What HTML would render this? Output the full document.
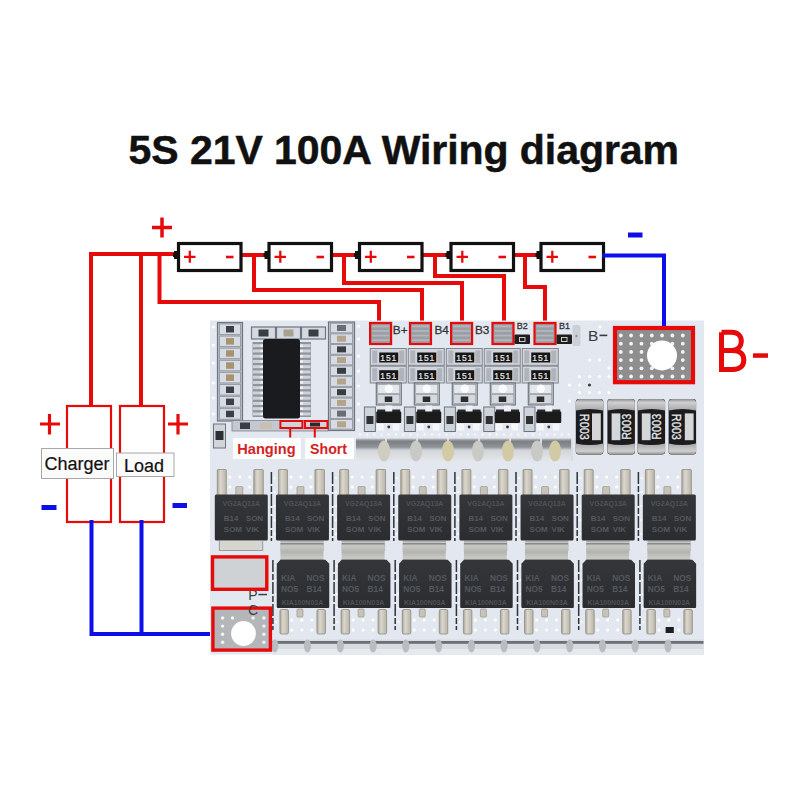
<!DOCTYPE html>
<html><head><meta charset="utf-8"><style>
html,body{margin:0;padding:0;background:#fff;}
svg{display:block;}
</style></head><body>
<svg width="800" height="800" viewBox="0 0 800 800">
<defs><linearGradient id="bus" x1="0" y1="0" x2="0" y2="1"><stop offset="0" stop-color="#c4c8cc"/><stop offset="0.12" stop-color="#7c8085"/><stop offset="0.38" stop-color="#8e9297"/><stop offset="0.52" stop-color="#d2d5d9"/><stop offset="1" stop-color="#e4e6ea"/></linearGradient><linearGradient id="tab" x1="0" y1="0" x2="0" y2="1"><stop offset="0" stop-color="#7a7b7c"/><stop offset="0.15" stop-color="#c9c9c6"/><stop offset="0.5" stop-color="#b3b3b0"/><stop offset="0.85" stop-color="#cbcbc8"/><stop offset="1" stop-color="#808182"/></linearGradient><linearGradient id="fet" x1="0" y1="0" x2="0" y2="1"><stop offset="0" stop-color="#34363a"/><stop offset="1" stop-color="#2a2c30"/></linearGradient><linearGradient id="lead" x1="0" y1="0" x2="1" y2="0"><stop offset="0" stop-color="#a9a59b"/><stop offset="0.35" stop-color="#dcd8cd"/><stop offset="1" stop-color="#b9b4a8"/></linearGradient><linearGradient id="cap" x1="0" y1="0" x2="0" y2="1"><stop offset="0" stop-color="#8e8e90"/><stop offset="0.3" stop-color="#cfcfd0"/><stop offset="1" stop-color="#a8a8aa"/></linearGradient><linearGradient id="capb" x1="0" y1="1" x2="0" y2="0"><stop offset="0" stop-color="#8e8e90"/><stop offset="0.3" stop-color="#cfcfd0"/><stop offset="1" stop-color="#a8a8aa"/></linearGradient></defs>
<text x="128.5" y="164" font-family="Liberation Sans" font-weight="bold" font-size="41" letter-spacing="-0.05" stroke="#111" stroke-width="0.5" fill="#111">5S 21V 100A Wiring diagram</text>
<polyline points="91,405 91,254 175,254" fill="none" stroke="#e60a0a" stroke-width="4" stroke-linejoin="miter" stroke-linecap="square"/>
<polyline points="141,405 141,254" fill="none" stroke="#e60a0a" stroke-width="4" stroke-linejoin="miter" stroke-linecap="square"/>
<polyline points="159.5,254 159.5,302 379,302 379,324" fill="none" stroke="#e60a0a" stroke-width="4" stroke-linejoin="miter" stroke-linecap="square"/>
<polyline points="243,255 266,255" fill="none" stroke="#e60a0a" stroke-width="4" stroke-linejoin="miter" stroke-linecap="square"/>
<polyline points="333,255 356,255" fill="none" stroke="#e60a0a" stroke-width="4" stroke-linejoin="miter" stroke-linecap="square"/>
<polyline points="423,255 447,255" fill="none" stroke="#e60a0a" stroke-width="4" stroke-linejoin="miter" stroke-linecap="square"/>
<polyline points="514,255 537,255" fill="none" stroke="#e60a0a" stroke-width="4" stroke-linejoin="miter" stroke-linecap="square"/>
<polyline points="254,255 254,290 422,290 422,324" fill="none" stroke="#e60a0a" stroke-width="4" stroke-linejoin="miter" stroke-linecap="square"/>
<polyline points="344,255 344,283 462,283 462,324" fill="none" stroke="#e60a0a" stroke-width="4" stroke-linejoin="miter" stroke-linecap="square"/>
<polyline points="435,255 435,276 504,276 504,324" fill="none" stroke="#e60a0a" stroke-width="4" stroke-linejoin="miter" stroke-linecap="square"/>
<polyline points="525,255 525,287 545,287 545,324" fill="none" stroke="#e60a0a" stroke-width="4" stroke-linejoin="miter" stroke-linecap="square"/>
<path d="M152,227.5 H172 M162,217.5 V237.5" stroke="#e60a0a" stroke-width="3.5"/>
<rect x="178.5" y="243.5" width="62.5" height="27" fill="#fff" stroke="#111" stroke-width="3.2"/>
<path d="M177.5,251 H174 V253 H173 V257 H174 V259 H177.5 Z" fill="#111"/>
<path d="M184,256.8 H195.5 M189.8,250.8 V262.8" stroke="#e60a0a" stroke-width="2.3"/>
<path d="M226,257 H233.5" stroke="#e60a0a" stroke-width="2.6"/>
<rect x="269.0" y="243.5" width="62.5" height="27" fill="#fff" stroke="#111" stroke-width="3.2"/>
<path d="M268.0,251 H264.5 V253 H263.5 V257 H264.5 V259 H268.0 Z" fill="#111"/>
<path d="M274.5,256.8 H286.0 M280.3,250.8 V262.8" stroke="#e60a0a" stroke-width="2.3"/>
<path d="M316.5,257 H324.0" stroke="#e60a0a" stroke-width="2.6"/>
<rect x="359.5" y="243.5" width="62.5" height="27" fill="#fff" stroke="#111" stroke-width="3.2"/>
<path d="M358.5,251 H355 V253 H354 V257 H355 V259 H358.5 Z" fill="#111"/>
<path d="M365,256.8 H376.5 M370.8,250.8 V262.8" stroke="#e60a0a" stroke-width="2.3"/>
<path d="M407,257 H414.5" stroke="#e60a0a" stroke-width="2.6"/>
<rect x="451.0" y="243.5" width="62.5" height="27" fill="#fff" stroke="#111" stroke-width="3.2"/>
<path d="M450.0,251 H446.5 V253 H445.5 V257 H446.5 V259 H450.0 Z" fill="#111"/>
<path d="M456.5,256.8 H468.0 M462.3,250.8 V262.8" stroke="#e60a0a" stroke-width="2.3"/>
<path d="M498.5,257 H506.0" stroke="#e60a0a" stroke-width="2.6"/>
<rect x="541.0" y="243.5" width="62.5" height="27" fill="#fff" stroke="#111" stroke-width="3.2"/>
<path d="M540.0,251 H536.5 V253 H535.5 V257 H536.5 V259 H540.0 Z" fill="#111"/>
<path d="M546.5,256.8 H558.0 M552.3,250.8 V262.8" stroke="#e60a0a" stroke-width="2.3"/>
<path d="M588.5,257 H596.0" stroke="#e60a0a" stroke-width="2.6"/>
<polyline points="604,255.5 664,255.5 664,326" fill="none" stroke="#0e0ee8" stroke-width="4" stroke-linejoin="miter" stroke-linecap="square"/>
<rect x="628" y="232.5" width="14.5" height="5" fill="#0e0ee8"/>
<rect x="67" y="406" width="44" height="116" fill="none" stroke="#e60a0a" stroke-width="2.2"/>
<rect x="120" y="406" width="44" height="116" fill="none" stroke="#e60a0a" stroke-width="2.2"/>
<path d="M40,424 H60 M49.5,414 V434.5 M168,424 H188 M178,414 V434.5" stroke="#e60a0a" stroke-width="3.2"/>
<rect x="41.5" y="505" width="15" height="5" fill="#0e0ee8"/>
<rect x="172.5" y="503" width="14.5" height="5" fill="#0e0ee8"/>
<rect x="41.5" y="448.5" width="72" height="30" fill="#fbfbfb" stroke="#a8a8a8" stroke-width="1"/>
<text x="44.5" y="469.5" font-family="Liberation Sans" font-size="18" stroke="#111" stroke-width="0.2" fill="#111">Charger</text>
<rect x="116.5" y="453" width="57.5" height="23.5" fill="#fbfbfb" stroke="#a8a8a8" stroke-width="1"/>
<text x="124" y="471.5" font-family="Liberation Sans" font-size="18" stroke="#111" stroke-width="0.2" fill="#111">Load</text>
<polyline points="91.5,522 91.5,634 217,634" fill="none" stroke="#0e0ee8" stroke-width="4" stroke-linejoin="miter" stroke-linecap="square"/>
<polyline points="141.5,522 141.5,634" fill="none" stroke="#0e0ee8" stroke-width="4" stroke-linejoin="miter" stroke-linecap="square"/>
<rect x="210.00" y="320.50" width="494.00" height="334.00" fill="#e3e8f0"/>
<rect x="217.50" y="322.50" width="25.00" height="98.50" fill="#b9bfc9" stroke="#6f757e" stroke-width="1.2"/>
<rect x="219.50" y="324.00" width="21.00" height="10.50" fill="#d7dce4" stroke="#8d939c" stroke-width="0.8"/>
<rect x="226.00" y="326.00" width="8.00" height="6.50" fill="#3c3f44"/>
<rect x="219.50" y="336.10" width="21.00" height="10.50" fill="#d7dce4" stroke="#8d939c" stroke-width="0.8"/>
<rect x="226.00" y="338.10" width="8.00" height="6.50" fill="#a8936e"/>
<rect x="219.50" y="348.20" width="21.00" height="10.50" fill="#d7dce4" stroke="#8d939c" stroke-width="0.8"/>
<rect x="226.00" y="350.20" width="8.00" height="6.50" fill="#a8936e"/>
<rect x="219.50" y="360.30" width="21.00" height="10.50" fill="#d7dce4" stroke="#8d939c" stroke-width="0.8"/>
<rect x="226.00" y="362.30" width="8.00" height="6.50" fill="#a8936e"/>
<rect x="219.50" y="372.40" width="21.00" height="10.50" fill="#d7dce4" stroke="#8d939c" stroke-width="0.8"/>
<rect x="226.00" y="374.40" width="8.00" height="6.50" fill="#a8936e"/>
<rect x="219.50" y="384.50" width="21.00" height="10.50" fill="#d7dce4" stroke="#8d939c" stroke-width="0.8"/>
<rect x="226.00" y="386.50" width="8.00" height="6.50" fill="#3c3f44"/>
<rect x="219.50" y="396.60" width="21.00" height="10.50" fill="#d7dce4" stroke="#8d939c" stroke-width="0.8"/>
<rect x="226.00" y="398.60" width="8.00" height="6.50" fill="#3c3f44"/>
<rect x="219.50" y="408.70" width="21.00" height="10.50" fill="#d7dce4" stroke="#8d939c" stroke-width="0.8"/>
<rect x="226.00" y="410.70" width="8.00" height="6.50" fill="#3c3f44"/>
<circle cx="213.5" cy="327.0" r="1.6" fill="#ffffff"/>
<circle cx="213.5" cy="345.0" r="1.6" fill="#ffffff"/>
<circle cx="213.5" cy="363.0" r="1.6" fill="#ffffff"/>
<circle cx="213.5" cy="383.0" r="1.6" fill="#ffffff"/>
<circle cx="213.5" cy="398.0" r="1.6" fill="#ffffff"/>
<circle cx="213.5" cy="414.0" r="1.6" fill="#ffffff"/>
<rect x="251.50" y="327.00" width="24.00" height="12.00" fill="#d5dae2" stroke="#6f757e" stroke-width="1.2"/>
<rect x="258.50" y="329.50" width="10.00" height="7.00" fill="#3a3d42"/>
<rect x="276.50" y="327.00" width="24.00" height="12.00" fill="#d5dae2" stroke="#6f757e" stroke-width="1.2"/>
<rect x="283.50" y="329.50" width="10.00" height="7.00" fill="#a8a090"/>
<rect x="301.50" y="327.00" width="24.00" height="12.00" fill="#d5dae2" stroke="#6f757e" stroke-width="1.2"/>
<rect x="308.50" y="329.50" width="10.00" height="7.00" fill="#3a3d42"/>
<rect x="252.50" y="342.00" width="11.00" height="75.00" fill="#8f959d"/>
<rect x="299.50" y="342.00" width="11.50" height="75.00" fill="#8f959d"/>
<rect x="253.00" y="344.20" width="10.50" height="3.00" fill="#cfd3d9"/>
<rect x="260.50" y="344.50" width="3.00" height="2.40" fill="#eef0f3"/>
<rect x="300.00" y="344.20" width="10.50" height="3.00" fill="#cfd3d9"/>
<rect x="300.00" y="344.50" width="3.00" height="2.40" fill="#eef0f3"/>
<rect x="253.00" y="349.45" width="10.50" height="3.00" fill="#cfd3d9"/>
<rect x="260.50" y="349.75" width="3.00" height="2.40" fill="#eef0f3"/>
<rect x="300.00" y="349.45" width="10.50" height="3.00" fill="#cfd3d9"/>
<rect x="300.00" y="349.75" width="3.00" height="2.40" fill="#eef0f3"/>
<rect x="253.00" y="354.70" width="10.50" height="3.00" fill="#cfd3d9"/>
<rect x="260.50" y="355.00" width="3.00" height="2.40" fill="#eef0f3"/>
<rect x="300.00" y="354.70" width="10.50" height="3.00" fill="#cfd3d9"/>
<rect x="300.00" y="355.00" width="3.00" height="2.40" fill="#eef0f3"/>
<rect x="253.00" y="359.95" width="10.50" height="3.00" fill="#cfd3d9"/>
<rect x="260.50" y="360.25" width="3.00" height="2.40" fill="#eef0f3"/>
<rect x="300.00" y="359.95" width="10.50" height="3.00" fill="#cfd3d9"/>
<rect x="300.00" y="360.25" width="3.00" height="2.40" fill="#eef0f3"/>
<rect x="253.00" y="365.20" width="10.50" height="3.00" fill="#cfd3d9"/>
<rect x="260.50" y="365.50" width="3.00" height="2.40" fill="#eef0f3"/>
<rect x="300.00" y="365.20" width="10.50" height="3.00" fill="#cfd3d9"/>
<rect x="300.00" y="365.50" width="3.00" height="2.40" fill="#eef0f3"/>
<rect x="253.00" y="370.45" width="10.50" height="3.00" fill="#cfd3d9"/>
<rect x="260.50" y="370.75" width="3.00" height="2.40" fill="#eef0f3"/>
<rect x="300.00" y="370.45" width="10.50" height="3.00" fill="#cfd3d9"/>
<rect x="300.00" y="370.75" width="3.00" height="2.40" fill="#eef0f3"/>
<rect x="253.00" y="375.70" width="10.50" height="3.00" fill="#cfd3d9"/>
<rect x="260.50" y="376.00" width="3.00" height="2.40" fill="#eef0f3"/>
<rect x="300.00" y="375.70" width="10.50" height="3.00" fill="#cfd3d9"/>
<rect x="300.00" y="376.00" width="3.00" height="2.40" fill="#eef0f3"/>
<rect x="253.00" y="380.95" width="10.50" height="3.00" fill="#cfd3d9"/>
<rect x="260.50" y="381.25" width="3.00" height="2.40" fill="#eef0f3"/>
<rect x="300.00" y="380.95" width="10.50" height="3.00" fill="#cfd3d9"/>
<rect x="300.00" y="381.25" width="3.00" height="2.40" fill="#eef0f3"/>
<rect x="253.00" y="386.20" width="10.50" height="3.00" fill="#cfd3d9"/>
<rect x="260.50" y="386.50" width="3.00" height="2.40" fill="#eef0f3"/>
<rect x="300.00" y="386.20" width="10.50" height="3.00" fill="#cfd3d9"/>
<rect x="300.00" y="386.50" width="3.00" height="2.40" fill="#eef0f3"/>
<rect x="253.00" y="391.45" width="10.50" height="3.00" fill="#cfd3d9"/>
<rect x="260.50" y="391.75" width="3.00" height="2.40" fill="#eef0f3"/>
<rect x="300.00" y="391.45" width="10.50" height="3.00" fill="#cfd3d9"/>
<rect x="300.00" y="391.75" width="3.00" height="2.40" fill="#eef0f3"/>
<rect x="253.00" y="396.70" width="10.50" height="3.00" fill="#cfd3d9"/>
<rect x="260.50" y="397.00" width="3.00" height="2.40" fill="#eef0f3"/>
<rect x="300.00" y="396.70" width="10.50" height="3.00" fill="#cfd3d9"/>
<rect x="300.00" y="397.00" width="3.00" height="2.40" fill="#eef0f3"/>
<rect x="253.00" y="401.95" width="10.50" height="3.00" fill="#cfd3d9"/>
<rect x="260.50" y="402.25" width="3.00" height="2.40" fill="#eef0f3"/>
<rect x="300.00" y="401.95" width="10.50" height="3.00" fill="#cfd3d9"/>
<rect x="300.00" y="402.25" width="3.00" height="2.40" fill="#eef0f3"/>
<rect x="253.00" y="407.20" width="10.50" height="3.00" fill="#cfd3d9"/>
<rect x="260.50" y="407.50" width="3.00" height="2.40" fill="#eef0f3"/>
<rect x="300.00" y="407.20" width="10.50" height="3.00" fill="#cfd3d9"/>
<rect x="300.00" y="407.50" width="3.00" height="2.40" fill="#eef0f3"/>
<rect x="253.00" y="412.45" width="10.50" height="3.00" fill="#cfd3d9"/>
<rect x="260.50" y="412.75" width="3.00" height="2.40" fill="#eef0f3"/>
<rect x="300.00" y="412.45" width="10.50" height="3.00" fill="#cfd3d9"/>
<rect x="300.00" y="412.75" width="3.00" height="2.40" fill="#eef0f3"/>
<rect x="263.00" y="339.00" width="37.00" height="79.50" fill="#1a1b1f" rx="2.5"/>
<rect x="328.50" y="322.00" width="26.00" height="108.50" fill="#b9bfc9" stroke="#6f757e" stroke-width="1.2"/>
<rect x="330.50" y="323.20" width="22.00" height="9.60" fill="#d7dce4" stroke="#8d939c" stroke-width="0.8"/>
<rect x="337.00" y="325.00" width="9.00" height="6.00" fill="#6a6e74"/>
<rect x="330.50" y="333.90" width="22.00" height="9.60" fill="#d7dce4" stroke="#8d939c" stroke-width="0.8"/>
<rect x="337.00" y="335.70" width="9.00" height="6.00" fill="#b4a48a"/>
<rect x="330.50" y="344.60" width="22.00" height="9.60" fill="#d7dce4" stroke="#8d939c" stroke-width="0.8"/>
<rect x="337.00" y="346.40" width="9.00" height="6.00" fill="#3a3d42"/>
<rect x="330.50" y="355.30" width="22.00" height="9.60" fill="#d7dce4" stroke="#8d939c" stroke-width="0.8"/>
<rect x="337.00" y="357.10" width="9.00" height="6.00" fill="#b4a48a"/>
<rect x="330.50" y="366.00" width="22.00" height="9.60" fill="#d7dce4" stroke="#8d939c" stroke-width="0.8"/>
<rect x="337.00" y="367.80" width="9.00" height="6.00" fill="#3a3d42"/>
<rect x="330.50" y="376.70" width="22.00" height="9.60" fill="#d7dce4" stroke="#8d939c" stroke-width="0.8"/>
<rect x="337.00" y="378.50" width="9.00" height="6.00" fill="#b4a48a"/>
<rect x="330.50" y="387.40" width="22.00" height="9.60" fill="#d7dce4" stroke="#8d939c" stroke-width="0.8"/>
<rect x="337.00" y="389.20" width="9.00" height="6.00" fill="#3a3d42"/>
<rect x="330.50" y="398.10" width="22.00" height="9.60" fill="#d7dce4" stroke="#8d939c" stroke-width="0.8"/>
<rect x="337.00" y="399.90" width="9.00" height="6.00" fill="#b4a48a"/>
<rect x="330.50" y="408.80" width="22.00" height="9.60" fill="#d7dce4" stroke="#8d939c" stroke-width="0.8"/>
<rect x="337.00" y="410.60" width="9.00" height="6.00" fill="#6a6e74"/>
<rect x="330.50" y="419.50" width="22.00" height="9.60" fill="#d7dce4" stroke="#8d939c" stroke-width="0.8"/>
<rect x="337.00" y="421.30" width="9.00" height="6.00" fill="#b4a48a"/>
<circle cx="358.5" cy="326.0" r="1.5" fill="#ffffff"/>
<circle cx="358.5" cy="339.0" r="1.5" fill="#ffffff"/>
<circle cx="358.5" cy="356.0" r="1.5" fill="#ffffff"/>
<circle cx="358.5" cy="371.0" r="1.5" fill="#ffffff"/>
<circle cx="358.5" cy="386.0" r="1.5" fill="#ffffff"/>
<circle cx="358.5" cy="404.0" r="1.5" fill="#ffffff"/>
<circle cx="358.5" cy="420.0" r="1.5" fill="#ffffff"/>
<rect x="232.00" y="420.50" width="96.00" height="10.50" fill="#c4c9d1" stroke="#7d838d" stroke-width="0.8"/>
<rect x="240.00" y="422.50" width="10.00" height="6.50" fill="#3a3d42"/>
<rect x="260.00" y="422.50" width="12.00" height="6.50" fill="#c8c0b0"/>
<rect x="280.40" y="421.00" width="22.00" height="7.00" fill="#cfd3da" stroke="#e60a0a" stroke-width="2"/>
<rect x="305.00" y="421.00" width="22.50" height="7.00" fill="#cfd3da" stroke="#e60a0a" stroke-width="2"/>
<rect x="310.00" y="422.50" width="10.00" height="4.00" fill="#2a2a2a"/>
<rect x="289.20" y="428.00" width="2.00" height="9.50" fill="#e60a0a"/>
<rect x="313.80" y="428.00" width="2.00" height="9.50" fill="#e60a0a"/>
<rect x="213.50" y="424.00" width="12.00" height="24.00" fill="#d0d5dc" stroke="#6f757e" stroke-width="1"/>
<rect x="215.50" y="431.00" width="8.00" height="9.00" fill="#2e3034"/>
<rect x="233.00" y="438.00" width="68.00" height="21.00" fill="#ffffff"/>
<text x="237.3" y="453.5" font-family="Liberation Sans" font-weight="bold" font-size="14.6" fill="#d42222">Hanging</text>
<rect x="305.00" y="438.00" width="49.00" height="21.00" fill="#ffffff"/>
<text x="310" y="453.5" font-family="Liberation Sans" font-weight="bold" font-size="14.2" fill="#d42222">Short</text>
<rect x="370.10" y="323.00" width="21.00" height="21.00" fill="#9b9fa5" stroke="#e60a0a" stroke-width="2.2"/>
<rect x="372.10" y="325.50" width="17.00" height="1.80" fill="#b3b6bb"/>
<rect x="372.10" y="330.10" width="17.00" height="1.80" fill="#b3b6bb"/>
<rect x="372.10" y="334.70" width="17.00" height="1.80" fill="#b3b6bb"/>
<rect x="372.10" y="339.30" width="17.00" height="1.80" fill="#b3b6bb"/>
<rect x="410.00" y="323.00" width="21.00" height="21.00" fill="#9b9fa5" stroke="#e60a0a" stroke-width="2.2"/>
<rect x="412.00" y="325.50" width="17.00" height="1.80" fill="#b3b6bb"/>
<rect x="412.00" y="330.10" width="17.00" height="1.80" fill="#b3b6bb"/>
<rect x="412.00" y="334.70" width="17.00" height="1.80" fill="#b3b6bb"/>
<rect x="412.00" y="339.30" width="17.00" height="1.80" fill="#b3b6bb"/>
<rect x="451.10" y="323.00" width="21.00" height="21.00" fill="#9b9fa5" stroke="#e60a0a" stroke-width="2.2"/>
<rect x="453.10" y="325.50" width="17.00" height="1.80" fill="#b3b6bb"/>
<rect x="453.10" y="330.10" width="17.00" height="1.80" fill="#b3b6bb"/>
<rect x="453.10" y="334.70" width="17.00" height="1.80" fill="#b3b6bb"/>
<rect x="453.10" y="339.30" width="17.00" height="1.80" fill="#b3b6bb"/>
<rect x="492.50" y="323.00" width="21.00" height="21.00" fill="#9b9fa5" stroke="#e60a0a" stroke-width="2.2"/>
<rect x="494.50" y="325.50" width="17.00" height="1.80" fill="#b3b6bb"/>
<rect x="494.50" y="330.10" width="17.00" height="1.80" fill="#b3b6bb"/>
<rect x="494.50" y="334.70" width="17.00" height="1.80" fill="#b3b6bb"/>
<rect x="494.50" y="339.30" width="17.00" height="1.80" fill="#b3b6bb"/>
<rect x="534.50" y="323.00" width="21.00" height="21.00" fill="#9b9fa5" stroke="#e60a0a" stroke-width="2.2"/>
<rect x="536.50" y="325.50" width="17.00" height="1.80" fill="#b3b6bb"/>
<rect x="536.50" y="330.10" width="17.00" height="1.80" fill="#b3b6bb"/>
<rect x="536.50" y="334.70" width="17.00" height="1.80" fill="#b3b6bb"/>
<rect x="536.50" y="339.30" width="17.00" height="1.80" fill="#b3b6bb"/>
<text x="392.8" y="333.8" font-family="Liberation Sans" font-size="11.8" stroke="#333" stroke-width="0.3" fill="#333">B+</text>
<text x="434.5" y="333.8" font-family="Liberation Sans" font-size="11.8" stroke="#333" stroke-width="0.3" fill="#333">B4</text>
<text x="475" y="333.8" font-family="Liberation Sans" font-size="11.8" stroke="#333" stroke-width="0.3" fill="#333">B3</text>
<text x="516.8" y="328.6" font-family="Liberation Sans" font-size="9" stroke="#333" stroke-width="0.3" fill="#333">B2</text>
<text x="559" y="328.6" font-family="Liberation Sans" font-size="9" stroke="#333" stroke-width="0.3" fill="#333">B1</text>
<rect x="514.50" y="334.50" width="15.50" height="9.50" fill="#1e1e1e" rx="1"/>
<rect x="519.50" y="337.50" width="5.50" height="4.00" fill="none" stroke="#cccccc" stroke-width="1"/>
<rect x="556.50" y="334.50" width="15.50" height="9.50" fill="#1e1e1e" rx="1"/>
<rect x="561.50" y="337.50" width="5.50" height="4.00" fill="none" stroke="#cccccc" stroke-width="1"/>
<rect x="572.50" y="325.00" width="8.00" height="21.00" fill="#cbd0d8" rx="2"/>
<circle cx="576.5" cy="336.0" r="1.2" fill="#8a9098"/>
<text x="588" y="341" font-family="Liberation Sans" font-size="15.5" fill="#3a3a3a">B</text>
<rect x="599.50" y="334.60" width="7.80" height="1.60" fill="#3a3a3a"/>
<circle cx="600.0" cy="327.0" r="1.5" fill="#ffffff"/>
<circle cx="589.7" cy="360.0" r="1.5" fill="#ffffff"/>
<circle cx="599.5" cy="360.0" r="1.5" fill="#ffffff"/>
<circle cx="609.0" cy="368.0" r="1.5" fill="#ffffff"/>
<circle cx="579.5" cy="376.6" r="1.5" fill="#ffffff"/>
<circle cx="589.7" cy="376.6" r="1.5" fill="#ffffff"/>
<circle cx="599.5" cy="376.6" r="1.5" fill="#ffffff"/>
<circle cx="569.5" cy="385.0" r="1.5" fill="#ffffff"/>
<circle cx="579.5" cy="385.0" r="1.5" fill="#ffffff"/>
<circle cx="579.5" cy="392.6" r="1.5" fill="#ffffff"/>
<circle cx="589.5" cy="392.6" r="1.5" fill="#ffffff"/>
<circle cx="599.5" cy="392.6" r="1.5" fill="#ffffff"/>
<circle cx="569.5" cy="401.0" r="1.5" fill="#ffffff"/>
<circle cx="609.0" cy="392.6" r="1.5" fill="#ffffff"/>
<circle cx="609.0" cy="376.6" r="1.5" fill="#ffffff"/>
<circle cx="589.5" cy="385.0" r="1.6" fill="#3c3f44"/>
<rect x="370.25" y="348.50" width="36.00" height="16.80" fill="#d2d6dc" stroke="#80858d" stroke-width="1"/>
<rect x="372.25" y="350.50" width="5.00" height="12.80" fill="#b0b4ba"/>
<rect x="399.25" y="350.50" width="5.00" height="12.80" fill="#b0b4ba"/>
<rect x="379.25" y="352.50" width="19.00" height="10.00" fill="#161616"/>
<text x="388.75" y="360.8" text-anchor="middle" font-family="Liberation Sans" font-size="8.5" letter-spacing="0.9" stroke="#e8e8e8" stroke-width="0.2" fill="#e8e8e8">151</text>
<rect x="370.25" y="366.20" width="36.00" height="16.80" fill="#d2d6dc" stroke="#80858d" stroke-width="1"/>
<rect x="372.25" y="368.20" width="5.00" height="12.80" fill="#b0b4ba"/>
<rect x="399.25" y="368.20" width="5.00" height="12.80" fill="#b0b4ba"/>
<rect x="379.25" y="370.20" width="19.00" height="10.00" fill="#161616"/>
<text x="388.75" y="378.5" text-anchor="middle" font-family="Liberation Sans" font-size="8.5" letter-spacing="0.9" stroke="#e8e8e8" stroke-width="0.2" fill="#e8e8e8">151</text>
<rect x="376.25" y="383.00" width="25.00" height="22.00" fill="#cdd2d8" stroke="#5f656e" stroke-width="1"/>
<rect x="377.75" y="384.50" width="22.00" height="9.00" fill="#e4e7eb" stroke="#8a9098" stroke-width="0.6"/>
<rect x="377.75" y="394.50" width="22.00" height="9.00" fill="#d5d9de" stroke="#8a9098" stroke-width="0.6"/>
<circle cx="388.75" cy="388.8" r="4.2" fill="#fafbfc"/>
<rect x="384.75" y="396.50" width="7.50" height="5.50" fill="#2a2c30"/>
<rect x="408.25" y="348.50" width="36.00" height="16.80" fill="#d2d6dc" stroke="#80858d" stroke-width="1"/>
<rect x="410.25" y="350.50" width="5.00" height="12.80" fill="#b0b4ba"/>
<rect x="437.25" y="350.50" width="5.00" height="12.80" fill="#b0b4ba"/>
<rect x="417.25" y="352.50" width="19.00" height="10.00" fill="#161616"/>
<text x="426.75" y="360.8" text-anchor="middle" font-family="Liberation Sans" font-size="8.5" letter-spacing="0.9" stroke="#e8e8e8" stroke-width="0.2" fill="#e8e8e8">151</text>
<rect x="408.25" y="366.20" width="36.00" height="16.80" fill="#d2d6dc" stroke="#80858d" stroke-width="1"/>
<rect x="410.25" y="368.20" width="5.00" height="12.80" fill="#b0b4ba"/>
<rect x="437.25" y="368.20" width="5.00" height="12.80" fill="#b0b4ba"/>
<rect x="417.25" y="370.20" width="19.00" height="10.00" fill="#161616"/>
<text x="426.75" y="378.5" text-anchor="middle" font-family="Liberation Sans" font-size="8.5" letter-spacing="0.9" stroke="#e8e8e8" stroke-width="0.2" fill="#e8e8e8">151</text>
<rect x="414.25" y="383.00" width="25.00" height="22.00" fill="#cdd2d8" stroke="#5f656e" stroke-width="1"/>
<rect x="415.75" y="384.50" width="22.00" height="9.00" fill="#e4e7eb" stroke="#8a9098" stroke-width="0.6"/>
<rect x="415.75" y="394.50" width="22.00" height="9.00" fill="#d5d9de" stroke="#8a9098" stroke-width="0.6"/>
<circle cx="426.75" cy="388.8" r="4.2" fill="#fafbfc"/>
<rect x="422.75" y="396.50" width="7.50" height="5.50" fill="#2a2c30"/>
<rect x="446.25" y="348.50" width="36.00" height="16.80" fill="#d2d6dc" stroke="#80858d" stroke-width="1"/>
<rect x="448.25" y="350.50" width="5.00" height="12.80" fill="#b0b4ba"/>
<rect x="475.25" y="350.50" width="5.00" height="12.80" fill="#b0b4ba"/>
<rect x="455.25" y="352.50" width="19.00" height="10.00" fill="#161616"/>
<text x="464.75" y="360.8" text-anchor="middle" font-family="Liberation Sans" font-size="8.5" letter-spacing="0.9" stroke="#e8e8e8" stroke-width="0.2" fill="#e8e8e8">151</text>
<rect x="446.25" y="366.20" width="36.00" height="16.80" fill="#d2d6dc" stroke="#80858d" stroke-width="1"/>
<rect x="448.25" y="368.20" width="5.00" height="12.80" fill="#b0b4ba"/>
<rect x="475.25" y="368.20" width="5.00" height="12.80" fill="#b0b4ba"/>
<rect x="455.25" y="370.20" width="19.00" height="10.00" fill="#161616"/>
<text x="464.75" y="378.5" text-anchor="middle" font-family="Liberation Sans" font-size="8.5" letter-spacing="0.9" stroke="#e8e8e8" stroke-width="0.2" fill="#e8e8e8">151</text>
<rect x="452.25" y="383.00" width="25.00" height="22.00" fill="#cdd2d8" stroke="#5f656e" stroke-width="1"/>
<rect x="453.75" y="384.50" width="22.00" height="9.00" fill="#e4e7eb" stroke="#8a9098" stroke-width="0.6"/>
<rect x="453.75" y="394.50" width="22.00" height="9.00" fill="#d5d9de" stroke="#8a9098" stroke-width="0.6"/>
<circle cx="464.75" cy="388.8" r="4.2" fill="#fafbfc"/>
<rect x="460.75" y="396.50" width="7.50" height="5.50" fill="#2a2c30"/>
<rect x="484.25" y="348.50" width="36.00" height="16.80" fill="#d2d6dc" stroke="#80858d" stroke-width="1"/>
<rect x="486.25" y="350.50" width="5.00" height="12.80" fill="#b0b4ba"/>
<rect x="513.25" y="350.50" width="5.00" height="12.80" fill="#b0b4ba"/>
<rect x="493.25" y="352.50" width="19.00" height="10.00" fill="#161616"/>
<text x="502.75" y="360.8" text-anchor="middle" font-family="Liberation Sans" font-size="8.5" letter-spacing="0.9" stroke="#e8e8e8" stroke-width="0.2" fill="#e8e8e8">151</text>
<rect x="484.25" y="366.20" width="36.00" height="16.80" fill="#d2d6dc" stroke="#80858d" stroke-width="1"/>
<rect x="486.25" y="368.20" width="5.00" height="12.80" fill="#b0b4ba"/>
<rect x="513.25" y="368.20" width="5.00" height="12.80" fill="#b0b4ba"/>
<rect x="493.25" y="370.20" width="19.00" height="10.00" fill="#161616"/>
<text x="502.75" y="378.5" text-anchor="middle" font-family="Liberation Sans" font-size="8.5" letter-spacing="0.9" stroke="#e8e8e8" stroke-width="0.2" fill="#e8e8e8">151</text>
<rect x="490.25" y="383.00" width="25.00" height="22.00" fill="#cdd2d8" stroke="#5f656e" stroke-width="1"/>
<rect x="491.75" y="384.50" width="22.00" height="9.00" fill="#e4e7eb" stroke="#8a9098" stroke-width="0.6"/>
<rect x="491.75" y="394.50" width="22.00" height="9.00" fill="#d5d9de" stroke="#8a9098" stroke-width="0.6"/>
<circle cx="502.75" cy="388.8" r="4.2" fill="#fafbfc"/>
<rect x="498.75" y="396.50" width="7.50" height="5.50" fill="#2a2c30"/>
<rect x="522.25" y="348.50" width="36.00" height="16.80" fill="#d2d6dc" stroke="#80858d" stroke-width="1"/>
<rect x="524.25" y="350.50" width="5.00" height="12.80" fill="#b0b4ba"/>
<rect x="551.25" y="350.50" width="5.00" height="12.80" fill="#b0b4ba"/>
<rect x="531.25" y="352.50" width="19.00" height="10.00" fill="#161616"/>
<text x="540.75" y="360.8" text-anchor="middle" font-family="Liberation Sans" font-size="8.5" letter-spacing="0.9" stroke="#e8e8e8" stroke-width="0.2" fill="#e8e8e8">151</text>
<rect x="522.25" y="366.20" width="36.00" height="16.80" fill="#d2d6dc" stroke="#80858d" stroke-width="1"/>
<rect x="524.25" y="368.20" width="5.00" height="12.80" fill="#b0b4ba"/>
<rect x="551.25" y="368.20" width="5.00" height="12.80" fill="#b0b4ba"/>
<rect x="531.25" y="370.20" width="19.00" height="10.00" fill="#161616"/>
<text x="540.75" y="378.5" text-anchor="middle" font-family="Liberation Sans" font-size="8.5" letter-spacing="0.9" stroke="#e8e8e8" stroke-width="0.2" fill="#e8e8e8">151</text>
<rect x="528.25" y="383.00" width="25.00" height="22.00" fill="#cdd2d8" stroke="#5f656e" stroke-width="1"/>
<rect x="529.75" y="384.50" width="22.00" height="9.00" fill="#e4e7eb" stroke="#8a9098" stroke-width="0.6"/>
<rect x="529.75" y="394.50" width="22.00" height="9.00" fill="#d5d9de" stroke="#8a9098" stroke-width="0.6"/>
<circle cx="540.75" cy="388.8" r="4.2" fill="#fafbfc"/>
<rect x="536.75" y="396.50" width="7.50" height="5.50" fill="#2a2c30"/>
<rect x="364.40" y="407.00" width="11.00" height="24.50" fill="#cfd4db" stroke="#6f757e" stroke-width="1"/>
<rect x="366.40" y="416.00" width="7.00" height="8.00" fill="#2f3135"/>
<rect x="377.25" y="409.50" width="23.00" height="3.00" fill="#2a2b2e"/>
<rect x="385.25" y="405.50" width="7.00" height="6.50" fill="#eef0f3"/>
<rect x="376.25" y="411.50" width="25.00" height="11.50" fill="#1b1b1c" rx="1"/>
<rect x="376.75" y="424.00" width="7.00" height="6.50" fill="#f6f7f9"/>
<rect x="392.75" y="424.00" width="6.50" height="6.50" fill="#f6f7f9"/>
<circle cx="388.8" cy="427.0" r="1.4" fill="#333"/>
<rect x="404.40" y="407.00" width="11.00" height="24.50" fill="#cfd4db" stroke="#6f757e" stroke-width="1"/>
<rect x="406.40" y="416.00" width="7.00" height="8.00" fill="#2f3135"/>
<rect x="417.25" y="409.50" width="23.00" height="3.00" fill="#2a2b2e"/>
<rect x="425.25" y="405.50" width="7.00" height="6.50" fill="#eef0f3"/>
<rect x="416.25" y="411.50" width="25.00" height="11.50" fill="#1b1b1c" rx="1"/>
<rect x="416.75" y="424.00" width="7.00" height="6.50" fill="#f6f7f9"/>
<rect x="432.75" y="424.00" width="6.50" height="6.50" fill="#f6f7f9"/>
<circle cx="428.8" cy="427.0" r="1.4" fill="#333"/>
<rect x="444.40" y="407.00" width="11.00" height="24.50" fill="#cfd4db" stroke="#6f757e" stroke-width="1"/>
<rect x="446.40" y="416.00" width="7.00" height="8.00" fill="#2f3135"/>
<rect x="457.60" y="409.50" width="23.00" height="3.00" fill="#2a2b2e"/>
<rect x="465.60" y="405.50" width="7.00" height="6.50" fill="#eef0f3"/>
<rect x="456.60" y="411.50" width="25.00" height="11.50" fill="#1b1b1c" rx="1"/>
<rect x="457.10" y="424.00" width="7.00" height="6.50" fill="#f6f7f9"/>
<rect x="473.10" y="424.00" width="6.50" height="6.50" fill="#f6f7f9"/>
<circle cx="469.1" cy="427.0" r="1.4" fill="#333"/>
<rect x="483.75" y="407.00" width="11.00" height="24.50" fill="#cfd4db" stroke="#6f757e" stroke-width="1"/>
<rect x="485.75" y="416.00" width="7.00" height="8.00" fill="#2f3135"/>
<rect x="496.00" y="409.50" width="23.00" height="3.00" fill="#2a2b2e"/>
<rect x="504.00" y="405.50" width="7.00" height="6.50" fill="#eef0f3"/>
<rect x="495.00" y="411.50" width="25.00" height="11.50" fill="#1b1b1c" rx="1"/>
<rect x="495.50" y="424.00" width="7.00" height="6.50" fill="#f6f7f9"/>
<rect x="511.50" y="424.00" width="6.50" height="6.50" fill="#f6f7f9"/>
<circle cx="507.5" cy="427.0" r="1.4" fill="#333"/>
<rect x="524.00" y="407.00" width="11.00" height="24.50" fill="#cfd4db" stroke="#6f757e" stroke-width="1"/>
<rect x="526.00" y="416.00" width="7.00" height="8.00" fill="#2f3135"/>
<rect x="537.25" y="409.50" width="23.00" height="3.00" fill="#2a2b2e"/>
<rect x="545.25" y="405.50" width="7.00" height="6.50" fill="#eef0f3"/>
<rect x="536.25" y="411.50" width="25.00" height="11.50" fill="#1b1b1c" rx="1"/>
<rect x="536.75" y="424.00" width="7.00" height="6.50" fill="#f6f7f9"/>
<rect x="552.75" y="424.00" width="6.50" height="6.50" fill="#f6f7f9"/>
<circle cx="548.8" cy="427.0" r="1.4" fill="#333"/>
<circle cx="360.0" cy="434.5" r="1.2" fill="#f4f6f8"/>
<circle cx="367.2" cy="434.5" r="1.2" fill="#f4f6f8"/>
<circle cx="374.4" cy="434.5" r="1.2" fill="#f4f6f8"/>
<circle cx="381.6" cy="434.5" r="1.2" fill="#f4f6f8"/>
<circle cx="388.8" cy="434.5" r="1.2" fill="#f4f6f8"/>
<circle cx="396.0" cy="434.5" r="1.2" fill="#f4f6f8"/>
<circle cx="403.2" cy="434.5" r="1.2" fill="#f4f6f8"/>
<circle cx="410.4" cy="434.5" r="1.2" fill="#f4f6f8"/>
<circle cx="417.6" cy="434.5" r="1.2" fill="#f4f6f8"/>
<circle cx="424.8" cy="434.5" r="1.2" fill="#f4f6f8"/>
<circle cx="432.0" cy="434.5" r="1.2" fill="#f4f6f8"/>
<circle cx="439.2" cy="434.5" r="1.2" fill="#f4f6f8"/>
<circle cx="446.4" cy="434.5" r="1.2" fill="#f4f6f8"/>
<circle cx="453.6" cy="434.5" r="1.2" fill="#f4f6f8"/>
<circle cx="460.8" cy="434.5" r="1.2" fill="#f4f6f8"/>
<circle cx="468.0" cy="434.5" r="1.2" fill="#f4f6f8"/>
<circle cx="475.2" cy="434.5" r="1.2" fill="#f4f6f8"/>
<circle cx="482.4" cy="434.5" r="1.2" fill="#f4f6f8"/>
<circle cx="489.6" cy="434.5" r="1.2" fill="#f4f6f8"/>
<circle cx="496.8" cy="434.5" r="1.2" fill="#f4f6f8"/>
<circle cx="504.0" cy="434.5" r="1.2" fill="#f4f6f8"/>
<circle cx="511.2" cy="434.5" r="1.2" fill="#f4f6f8"/>
<circle cx="518.4" cy="434.5" r="1.2" fill="#f4f6f8"/>
<circle cx="525.6" cy="434.5" r="1.2" fill="#f4f6f8"/>
<circle cx="532.8" cy="434.5" r="1.2" fill="#f4f6f8"/>
<circle cx="540.0" cy="434.5" r="1.2" fill="#f4f6f8"/>
<circle cx="547.2" cy="434.5" r="1.2" fill="#f4f6f8"/>
<circle cx="554.4" cy="434.5" r="1.2" fill="#f4f6f8"/>
<circle cx="561.6" cy="434.5" r="1.2" fill="#f4f6f8"/>
<circle cx="568.8" cy="434.5" r="1.2" fill="#f4f6f8"/>
<rect x="356.00" y="438.50" width="217.00" height="22.50" fill="#d9dde2"/>
<rect x="356.00" y="438.50" width="29.00" height="22.50" fill="url(#bus)"/>
<rect x="387.00" y="438.50" width="29.00" height="22.50" fill="url(#bus)"/>
<rect x="418.00" y="438.50" width="29.00" height="22.50" fill="url(#bus)"/>
<rect x="449.00" y="438.50" width="29.00" height="22.50" fill="url(#bus)"/>
<rect x="480.00" y="438.50" width="29.00" height="22.50" fill="url(#bus)"/>
<rect x="511.00" y="438.50" width="29.00" height="22.50" fill="url(#bus)"/>
<rect x="542.00" y="438.50" width="29.00" height="22.50" fill="url(#bus)"/>
<ellipse cx="384" cy="451" rx="6" ry="10.5" fill="#cfcdc0"/>
<ellipse cx="416" cy="451" rx="6" ry="10.5" fill="#c9cac6"/>
<ellipse cx="448" cy="451" rx="6" ry="10.5" fill="#d2caa4"/>
<ellipse cx="478" cy="451" rx="6" ry="10.5" fill="#c9cac6"/>
<ellipse cx="508" cy="451" rx="6" ry="10.5" fill="#d2caa4"/>
<ellipse cx="537" cy="451" rx="6" ry="10.5" fill="#c9cac6"/>
<ellipse cx="555" cy="451" rx="6" ry="10.5" fill="#d2caa4"/>
<rect x="575.80" y="399.00" width="27.50" height="55.50" fill="#1c1c1e" rx="3"/>
<path d="M575.8,410.5 V403 Q575.8,399 579.8,399 H599.3 Q603.3,399 603.3,403 V410.5 Q589.55,407.5 575.8,410.5 Z" fill="url(#cap)"/>
<path d="M575.8,443.5 V450.5 Q575.8,454.5 579.8,454.5 H599.3 Q603.3,454.5 603.3,450.5 V443.5 Q589.55,446.5 575.8,443.5 Z" fill="url(#capb)"/>
<rect x="592.00" y="413.40" width="8.80" height="26.80" fill="#d4d6d8"/>
<text transform="translate(584.1,426.8) rotate(90)" text-anchor="middle" font-family="Liberation Sans" font-size="12.5" textLength="26" lengthAdjust="spacingAndGlyphs" stroke="#e6e6e6" stroke-width="0.3" fill="#e6e6e6" y="4.5">R003</text>
<rect x="607.40" y="399.00" width="27.50" height="55.50" fill="#1c1c1e" rx="3"/>
<path d="M607.4,410.5 V403 Q607.4,399 611.4,399 H630.9 Q634.9,399 634.9,403 V410.5 Q621.15,407.5 607.4,410.5 Z" fill="url(#cap)"/>
<path d="M607.4,443.5 V450.5 Q607.4,454.5 611.4,454.5 H630.9 Q634.9,454.5 634.9,450.5 V443.5 Q621.15,446.5 607.4,443.5 Z" fill="url(#capb)"/>
<rect x="611.60" y="413.40" width="8.80" height="26.80" fill="#d4d6d8"/>
<text transform="translate(626.7,426.8) rotate(-90)" text-anchor="middle" font-family="Liberation Sans" font-size="12.5" textLength="26" lengthAdjust="spacingAndGlyphs" stroke="#e6e6e6" stroke-width="0.3" fill="#e6e6e6" y="4.5">R003</text>
<rect x="637.60" y="399.00" width="27.50" height="55.50" fill="#1c1c1e" rx="3"/>
<path d="M637.6,410.5 V403 Q637.6,399 641.6,399 H661.1 Q665.1,399 665.1,403 V410.5 Q651.35,407.5 637.6,410.5 Z" fill="url(#cap)"/>
<path d="M637.6,443.5 V450.5 Q637.6,454.5 641.6,454.5 H661.1 Q665.1,454.5 665.1,450.5 V443.5 Q651.35,446.5 637.6,443.5 Z" fill="url(#capb)"/>
<rect x="641.80" y="413.40" width="8.80" height="26.80" fill="#d4d6d8"/>
<text transform="translate(656.9,426.8) rotate(-90)" text-anchor="middle" font-family="Liberation Sans" font-size="12.5" textLength="26" lengthAdjust="spacingAndGlyphs" stroke="#e6e6e6" stroke-width="0.3" fill="#e6e6e6" y="4.5">R003</text>
<rect x="668.60" y="399.00" width="27.50" height="55.50" fill="#1c1c1e" rx="3"/>
<path d="M668.6,410.5 V403 Q668.6,399 672.6,399 H692.1 Q696.1,399 696.1,403 V410.5 Q682.35,407.5 668.6,410.5 Z" fill="url(#cap)"/>
<path d="M668.6,443.5 V450.5 Q668.6,454.5 672.6,454.5 H692.1 Q696.1,454.5 696.1,450.5 V443.5 Q682.35,446.5 668.6,443.5 Z" fill="url(#capb)"/>
<rect x="684.80" y="413.40" width="8.80" height="26.80" fill="#d4d6d8"/>
<text transform="translate(676.9,426.8) rotate(90)" text-anchor="middle" font-family="Liberation Sans" font-size="12.5" textLength="26" lengthAdjust="spacingAndGlyphs" stroke="#e6e6e6" stroke-width="0.3" fill="#e6e6e6" y="4.5">R003</text>
<path d="M271.4,472 V541 M272.9,560 V630" stroke="#2f333a" stroke-width="1.5" stroke-dasharray="12 2 6 2"/>
<circle cx="274.6" cy="478.0" r="1.3" fill="#f6f7f9"/>
<circle cx="274.6" cy="492.0" r="1.3" fill="#f6f7f9"/>
<circle cx="274.6" cy="506.0" r="1.3" fill="#f6f7f9"/>
<circle cx="274.6" cy="520.0" r="1.3" fill="#f6f7f9"/>
<circle cx="274.6" cy="534.0" r="1.3" fill="#f6f7f9"/>
<circle cx="276.1" cy="566.0" r="1.3" fill="#f6f7f9"/>
<circle cx="276.1" cy="580.0" r="1.3" fill="#f6f7f9"/>
<circle cx="276.1" cy="594.0" r="1.3" fill="#f6f7f9"/>
<circle cx="276.1" cy="608.0" r="1.3" fill="#f6f7f9"/>
<circle cx="276.1" cy="622.0" r="1.3" fill="#f6f7f9"/>
<path d="M332.6,472 V541 M334.1,560 V630" stroke="#2f333a" stroke-width="1.5" stroke-dasharray="12 2 6 2"/>
<circle cx="335.8" cy="478.0" r="1.3" fill="#f6f7f9"/>
<circle cx="335.8" cy="492.0" r="1.3" fill="#f6f7f9"/>
<circle cx="335.8" cy="506.0" r="1.3" fill="#f6f7f9"/>
<circle cx="335.8" cy="520.0" r="1.3" fill="#f6f7f9"/>
<circle cx="335.8" cy="534.0" r="1.3" fill="#f6f7f9"/>
<circle cx="337.2" cy="566.0" r="1.3" fill="#f6f7f9"/>
<circle cx="337.2" cy="580.0" r="1.3" fill="#f6f7f9"/>
<circle cx="337.2" cy="594.0" r="1.3" fill="#f6f7f9"/>
<circle cx="337.2" cy="608.0" r="1.3" fill="#f6f7f9"/>
<circle cx="337.2" cy="622.0" r="1.3" fill="#f6f7f9"/>
<path d="M393.8,472 V541 M395.2,560 V630" stroke="#2f333a" stroke-width="1.5" stroke-dasharray="12 2 6 2"/>
<circle cx="396.9" cy="478.0" r="1.3" fill="#f6f7f9"/>
<circle cx="396.9" cy="492.0" r="1.3" fill="#f6f7f9"/>
<circle cx="396.9" cy="506.0" r="1.3" fill="#f6f7f9"/>
<circle cx="396.9" cy="520.0" r="1.3" fill="#f6f7f9"/>
<circle cx="396.9" cy="534.0" r="1.3" fill="#f6f7f9"/>
<circle cx="398.4" cy="566.0" r="1.3" fill="#f6f7f9"/>
<circle cx="398.4" cy="580.0" r="1.3" fill="#f6f7f9"/>
<circle cx="398.4" cy="594.0" r="1.3" fill="#f6f7f9"/>
<circle cx="398.4" cy="608.0" r="1.3" fill="#f6f7f9"/>
<circle cx="398.4" cy="622.0" r="1.3" fill="#f6f7f9"/>
<path d="M454.9,472 V541 M456.4,560 V630" stroke="#2f333a" stroke-width="1.5" stroke-dasharray="12 2 6 2"/>
<circle cx="458.1" cy="478.0" r="1.3" fill="#f6f7f9"/>
<circle cx="458.1" cy="492.0" r="1.3" fill="#f6f7f9"/>
<circle cx="458.1" cy="506.0" r="1.3" fill="#f6f7f9"/>
<circle cx="458.1" cy="520.0" r="1.3" fill="#f6f7f9"/>
<circle cx="458.1" cy="534.0" r="1.3" fill="#f6f7f9"/>
<circle cx="459.5" cy="566.0" r="1.3" fill="#f6f7f9"/>
<circle cx="459.5" cy="580.0" r="1.3" fill="#f6f7f9"/>
<circle cx="459.5" cy="594.0" r="1.3" fill="#f6f7f9"/>
<circle cx="459.5" cy="608.0" r="1.3" fill="#f6f7f9"/>
<circle cx="459.5" cy="622.0" r="1.3" fill="#f6f7f9"/>
<path d="M516.0,472 V541 M517.5,560 V630" stroke="#2f333a" stroke-width="1.5" stroke-dasharray="12 2 6 2"/>
<circle cx="519.2" cy="478.0" r="1.3" fill="#f6f7f9"/>
<circle cx="519.2" cy="492.0" r="1.3" fill="#f6f7f9"/>
<circle cx="519.2" cy="506.0" r="1.3" fill="#f6f7f9"/>
<circle cx="519.2" cy="520.0" r="1.3" fill="#f6f7f9"/>
<circle cx="519.2" cy="534.0" r="1.3" fill="#f6f7f9"/>
<circle cx="520.6" cy="566.0" r="1.3" fill="#f6f7f9"/>
<circle cx="520.6" cy="580.0" r="1.3" fill="#f6f7f9"/>
<circle cx="520.6" cy="594.0" r="1.3" fill="#f6f7f9"/>
<circle cx="520.6" cy="608.0" r="1.3" fill="#f6f7f9"/>
<circle cx="520.6" cy="622.0" r="1.3" fill="#f6f7f9"/>
<path d="M577.2,472 V541 M578.7,560 V630" stroke="#2f333a" stroke-width="1.5" stroke-dasharray="12 2 6 2"/>
<circle cx="580.4" cy="478.0" r="1.3" fill="#f6f7f9"/>
<circle cx="580.4" cy="492.0" r="1.3" fill="#f6f7f9"/>
<circle cx="580.4" cy="506.0" r="1.3" fill="#f6f7f9"/>
<circle cx="580.4" cy="520.0" r="1.3" fill="#f6f7f9"/>
<circle cx="580.4" cy="534.0" r="1.3" fill="#f6f7f9"/>
<circle cx="581.8" cy="566.0" r="1.3" fill="#f6f7f9"/>
<circle cx="581.8" cy="580.0" r="1.3" fill="#f6f7f9"/>
<circle cx="581.8" cy="594.0" r="1.3" fill="#f6f7f9"/>
<circle cx="581.8" cy="608.0" r="1.3" fill="#f6f7f9"/>
<circle cx="581.8" cy="622.0" r="1.3" fill="#f6f7f9"/>
<path d="M638.4,472 V541 M639.9,560 V630" stroke="#2f333a" stroke-width="1.5" stroke-dasharray="12 2 6 2"/>
<circle cx="641.6" cy="478.0" r="1.3" fill="#f6f7f9"/>
<circle cx="641.6" cy="492.0" r="1.3" fill="#f6f7f9"/>
<circle cx="641.6" cy="506.0" r="1.3" fill="#f6f7f9"/>
<circle cx="641.6" cy="520.0" r="1.3" fill="#f6f7f9"/>
<circle cx="641.6" cy="534.0" r="1.3" fill="#f6f7f9"/>
<circle cx="643.0" cy="566.0" r="1.3" fill="#f6f7f9"/>
<circle cx="643.0" cy="580.0" r="1.3" fill="#f6f7f9"/>
<circle cx="643.0" cy="594.0" r="1.3" fill="#f6f7f9"/>
<circle cx="643.0" cy="608.0" r="1.3" fill="#f6f7f9"/>
<circle cx="643.0" cy="622.0" r="1.3" fill="#f6f7f9"/>
<circle cx="229.8" cy="477.0" r="1.5" fill="#ffffff"/>
<circle cx="229.8" cy="487.0" r="1.5" fill="#ffffff"/>
<circle cx="239.8" cy="477.0" r="1.5" fill="#ffffff"/>
<circle cx="239.8" cy="487.0" r="1.5" fill="#ffffff"/>
<circle cx="249.8" cy="477.0" r="1.5" fill="#ffffff"/>
<circle cx="249.8" cy="487.0" r="1.5" fill="#ffffff"/>
<rect x="217.30" y="469.50" width="9.00" height="26.00" fill="url(#lead)" stroke="#8e8a80" stroke-width="0.8" rx="0.8"/>
<rect x="253.80" y="469.50" width="9.50" height="26.00" fill="url(#lead)" stroke="#8e8a80" stroke-width="0.8" rx="0.8"/>
<rect x="235.80" y="486.50" width="7.00" height="9.00" fill="#c8c3b8" stroke="#8e8a80" stroke-width="0.6" rx="1"/>
<rect x="214.80" y="494.50" width="53.00" height="46.00" fill="url(#fet)" rx="1.5"/>
<rect x="219.30" y="540.50" width="43.50" height="10.00" fill="#d6d6d0" stroke="#8a8c90" stroke-width="0.8"/>
<text x="241.3" y="506" text-anchor="middle" font-family="Liberation Sans" font-size="7" font-weight="bold" fill="#4f5258">VG2AQ13A</text>
<text x="223.8" y="521" font-family="Liberation Sans" font-size="8" font-weight="bold" fill="#55585e">B14</text>
<text x="245.8" y="521" font-family="Liberation Sans" font-size="8" font-weight="bold" fill="#55585e">SON</text>
<text x="223.8" y="532" font-family="Liberation Sans" font-size="8" font-weight="bold" fill="#55585e">SOM</text>
<text x="245.8" y="532" font-family="Liberation Sans" font-size="8" font-weight="bold" fill="#55585e">VIK</text>
<circle cx="290.9" cy="477.0" r="1.5" fill="#ffffff"/>
<circle cx="290.9" cy="487.0" r="1.5" fill="#ffffff"/>
<circle cx="300.9" cy="477.0" r="1.5" fill="#ffffff"/>
<circle cx="300.9" cy="487.0" r="1.5" fill="#ffffff"/>
<circle cx="310.9" cy="477.0" r="1.5" fill="#ffffff"/>
<circle cx="310.9" cy="487.0" r="1.5" fill="#ffffff"/>
<rect x="278.45" y="469.50" width="9.00" height="26.00" fill="url(#lead)" stroke="#8e8a80" stroke-width="0.8" rx="0.8"/>
<rect x="314.95" y="469.50" width="9.50" height="26.00" fill="url(#lead)" stroke="#8e8a80" stroke-width="0.8" rx="0.8"/>
<rect x="296.95" y="486.50" width="7.00" height="9.00" fill="#c8c3b8" stroke="#8e8a80" stroke-width="0.6" rx="1"/>
<rect x="275.95" y="494.50" width="53.00" height="46.00" fill="url(#fet)" rx="1.5"/>
<rect x="280.45" y="540.50" width="43.50" height="10.00" fill="url(#tab)"/>
<text x="302.45" y="506" text-anchor="middle" font-family="Liberation Sans" font-size="7" font-weight="bold" fill="#4f5258">VG2AQ13A</text>
<text x="284.95" y="521" font-family="Liberation Sans" font-size="8" font-weight="bold" fill="#55585e">B14</text>
<text x="306.95" y="521" font-family="Liberation Sans" font-size="8" font-weight="bold" fill="#55585e">SON</text>
<text x="284.95" y="532" font-family="Liberation Sans" font-size="8" font-weight="bold" fill="#55585e">SOM</text>
<text x="306.95" y="532" font-family="Liberation Sans" font-size="8" font-weight="bold" fill="#55585e">VIK</text>
<circle cx="352.1" cy="477.0" r="1.5" fill="#ffffff"/>
<circle cx="352.1" cy="487.0" r="1.5" fill="#ffffff"/>
<circle cx="362.1" cy="477.0" r="1.5" fill="#ffffff"/>
<circle cx="362.1" cy="487.0" r="1.5" fill="#ffffff"/>
<circle cx="372.1" cy="477.0" r="1.5" fill="#ffffff"/>
<circle cx="372.1" cy="487.0" r="1.5" fill="#ffffff"/>
<rect x="339.60" y="469.50" width="9.00" height="26.00" fill="url(#lead)" stroke="#8e8a80" stroke-width="0.8" rx="0.8"/>
<rect x="376.10" y="469.50" width="9.50" height="26.00" fill="url(#lead)" stroke="#8e8a80" stroke-width="0.8" rx="0.8"/>
<rect x="358.10" y="486.50" width="7.00" height="9.00" fill="#c8c3b8" stroke="#8e8a80" stroke-width="0.6" rx="1"/>
<rect x="337.10" y="494.50" width="53.00" height="46.00" fill="url(#fet)" rx="1.5"/>
<rect x="341.60" y="540.50" width="43.50" height="10.00" fill="url(#tab)"/>
<text x="363.6" y="506" text-anchor="middle" font-family="Liberation Sans" font-size="7" font-weight="bold" fill="#4f5258">VG2AQ13A</text>
<text x="346.1" y="521" font-family="Liberation Sans" font-size="8" font-weight="bold" fill="#55585e">B14</text>
<text x="368.1" y="521" font-family="Liberation Sans" font-size="8" font-weight="bold" fill="#55585e">SON</text>
<text x="346.1" y="532" font-family="Liberation Sans" font-size="8" font-weight="bold" fill="#55585e">SOM</text>
<text x="368.1" y="532" font-family="Liberation Sans" font-size="8" font-weight="bold" fill="#55585e">VIK</text>
<circle cx="413.2" cy="477.0" r="1.5" fill="#ffffff"/>
<circle cx="413.2" cy="487.0" r="1.5" fill="#ffffff"/>
<circle cx="423.2" cy="477.0" r="1.5" fill="#ffffff"/>
<circle cx="423.2" cy="487.0" r="1.5" fill="#ffffff"/>
<circle cx="433.2" cy="477.0" r="1.5" fill="#ffffff"/>
<circle cx="433.2" cy="487.0" r="1.5" fill="#ffffff"/>
<rect x="400.75" y="469.50" width="9.00" height="26.00" fill="url(#lead)" stroke="#8e8a80" stroke-width="0.8" rx="0.8"/>
<rect x="437.25" y="469.50" width="9.50" height="26.00" fill="url(#lead)" stroke="#8e8a80" stroke-width="0.8" rx="0.8"/>
<rect x="419.25" y="486.50" width="7.00" height="9.00" fill="#c8c3b8" stroke="#8e8a80" stroke-width="0.6" rx="1"/>
<rect x="398.25" y="494.50" width="53.00" height="46.00" fill="url(#fet)" rx="1.5"/>
<rect x="402.75" y="540.50" width="43.50" height="10.00" fill="url(#tab)"/>
<text x="424.75" y="506" text-anchor="middle" font-family="Liberation Sans" font-size="7" font-weight="bold" fill="#4f5258">VG2AQ13A</text>
<text x="407.25" y="521" font-family="Liberation Sans" font-size="8" font-weight="bold" fill="#55585e">B14</text>
<text x="429.25" y="521" font-family="Liberation Sans" font-size="8" font-weight="bold" fill="#55585e">SON</text>
<text x="407.25" y="532" font-family="Liberation Sans" font-size="8" font-weight="bold" fill="#55585e">SOM</text>
<text x="429.25" y="532" font-family="Liberation Sans" font-size="8" font-weight="bold" fill="#55585e">VIK</text>
<circle cx="474.4" cy="477.0" r="1.5" fill="#ffffff"/>
<circle cx="474.4" cy="487.0" r="1.5" fill="#ffffff"/>
<circle cx="484.4" cy="477.0" r="1.5" fill="#ffffff"/>
<circle cx="484.4" cy="487.0" r="1.5" fill="#ffffff"/>
<circle cx="494.4" cy="477.0" r="1.5" fill="#ffffff"/>
<circle cx="494.4" cy="487.0" r="1.5" fill="#ffffff"/>
<rect x="461.90" y="469.50" width="9.00" height="26.00" fill="url(#lead)" stroke="#8e8a80" stroke-width="0.8" rx="0.8"/>
<rect x="498.40" y="469.50" width="9.50" height="26.00" fill="url(#lead)" stroke="#8e8a80" stroke-width="0.8" rx="0.8"/>
<rect x="480.40" y="486.50" width="7.00" height="9.00" fill="#c8c3b8" stroke="#8e8a80" stroke-width="0.6" rx="1"/>
<rect x="459.40" y="494.50" width="53.00" height="46.00" fill="url(#fet)" rx="1.5"/>
<rect x="463.90" y="540.50" width="43.50" height="10.00" fill="url(#tab)"/>
<text x="485.9" y="506" text-anchor="middle" font-family="Liberation Sans" font-size="7" font-weight="bold" fill="#4f5258">VG2AQ13A</text>
<text x="468.4" y="521" font-family="Liberation Sans" font-size="8" font-weight="bold" fill="#55585e">B14</text>
<text x="490.4" y="521" font-family="Liberation Sans" font-size="8" font-weight="bold" fill="#55585e">SON</text>
<text x="468.4" y="532" font-family="Liberation Sans" font-size="8" font-weight="bold" fill="#55585e">SOM</text>
<text x="490.4" y="532" font-family="Liberation Sans" font-size="8" font-weight="bold" fill="#55585e">VIK</text>
<circle cx="535.5" cy="477.0" r="1.5" fill="#ffffff"/>
<circle cx="535.5" cy="487.0" r="1.5" fill="#ffffff"/>
<circle cx="545.5" cy="477.0" r="1.5" fill="#ffffff"/>
<circle cx="545.5" cy="487.0" r="1.5" fill="#ffffff"/>
<circle cx="555.5" cy="477.0" r="1.5" fill="#ffffff"/>
<circle cx="555.5" cy="487.0" r="1.5" fill="#ffffff"/>
<rect x="523.05" y="469.50" width="9.00" height="26.00" fill="url(#lead)" stroke="#8e8a80" stroke-width="0.8" rx="0.8"/>
<rect x="559.55" y="469.50" width="9.50" height="26.00" fill="url(#lead)" stroke="#8e8a80" stroke-width="0.8" rx="0.8"/>
<rect x="541.55" y="486.50" width="7.00" height="9.00" fill="#c8c3b8" stroke="#8e8a80" stroke-width="0.6" rx="1"/>
<rect x="520.55" y="494.50" width="53.00" height="46.00" fill="url(#fet)" rx="1.5"/>
<rect x="525.05" y="540.50" width="43.50" height="10.00" fill="url(#tab)"/>
<text x="547.05" y="506" text-anchor="middle" font-family="Liberation Sans" font-size="7" font-weight="bold" fill="#4f5258">VG2AQ13A</text>
<text x="529.55" y="521" font-family="Liberation Sans" font-size="8" font-weight="bold" fill="#55585e">B14</text>
<text x="551.55" y="521" font-family="Liberation Sans" font-size="8" font-weight="bold" fill="#55585e">SON</text>
<text x="529.55" y="532" font-family="Liberation Sans" font-size="8" font-weight="bold" fill="#55585e">SOM</text>
<text x="551.55" y="532" font-family="Liberation Sans" font-size="8" font-weight="bold" fill="#55585e">VIK</text>
<circle cx="596.7" cy="477.0" r="1.5" fill="#ffffff"/>
<circle cx="596.7" cy="487.0" r="1.5" fill="#ffffff"/>
<circle cx="606.7" cy="477.0" r="1.5" fill="#ffffff"/>
<circle cx="606.7" cy="487.0" r="1.5" fill="#ffffff"/>
<circle cx="616.7" cy="477.0" r="1.5" fill="#ffffff"/>
<circle cx="616.7" cy="487.0" r="1.5" fill="#ffffff"/>
<rect x="584.20" y="469.50" width="9.00" height="26.00" fill="url(#lead)" stroke="#8e8a80" stroke-width="0.8" rx="0.8"/>
<rect x="620.70" y="469.50" width="9.50" height="26.00" fill="url(#lead)" stroke="#8e8a80" stroke-width="0.8" rx="0.8"/>
<rect x="602.70" y="486.50" width="7.00" height="9.00" fill="#c8c3b8" stroke="#8e8a80" stroke-width="0.6" rx="1"/>
<rect x="581.70" y="494.50" width="53.00" height="46.00" fill="url(#fet)" rx="1.5"/>
<rect x="586.20" y="540.50" width="43.50" height="10.00" fill="url(#tab)"/>
<text x="608.2" y="506" text-anchor="middle" font-family="Liberation Sans" font-size="7" font-weight="bold" fill="#4f5258">VG2AQ13A</text>
<text x="590.7" y="521" font-family="Liberation Sans" font-size="8" font-weight="bold" fill="#55585e">B14</text>
<text x="612.7" y="521" font-family="Liberation Sans" font-size="8" font-weight="bold" fill="#55585e">SON</text>
<text x="590.7" y="532" font-family="Liberation Sans" font-size="8" font-weight="bold" fill="#55585e">SOM</text>
<text x="612.7" y="532" font-family="Liberation Sans" font-size="8" font-weight="bold" fill="#55585e">VIK</text>
<circle cx="657.9" cy="477.0" r="1.5" fill="#ffffff"/>
<circle cx="657.9" cy="487.0" r="1.5" fill="#ffffff"/>
<circle cx="667.9" cy="477.0" r="1.5" fill="#ffffff"/>
<circle cx="667.9" cy="487.0" r="1.5" fill="#ffffff"/>
<circle cx="677.9" cy="477.0" r="1.5" fill="#ffffff"/>
<circle cx="677.9" cy="487.0" r="1.5" fill="#ffffff"/>
<rect x="645.35" y="469.50" width="9.00" height="26.00" fill="url(#lead)" stroke="#8e8a80" stroke-width="0.8" rx="0.8"/>
<rect x="681.85" y="469.50" width="9.50" height="26.00" fill="url(#lead)" stroke="#8e8a80" stroke-width="0.8" rx="0.8"/>
<rect x="663.85" y="486.50" width="7.00" height="9.00" fill="#c8c3b8" stroke="#8e8a80" stroke-width="0.6" rx="1"/>
<rect x="642.85" y="494.50" width="53.00" height="46.00" fill="url(#fet)" rx="1.5"/>
<rect x="647.35" y="540.50" width="43.50" height="10.00" fill="url(#tab)"/>
<text x="669.35" y="506" text-anchor="middle" font-family="Liberation Sans" font-size="7" font-weight="bold" fill="#4f5258">VG2AQ13A</text>
<text x="651.85" y="521" font-family="Liberation Sans" font-size="8" font-weight="bold" fill="#55585e">B14</text>
<text x="673.85" y="521" font-family="Liberation Sans" font-size="8" font-weight="bold" fill="#55585e">SON</text>
<text x="651.85" y="532" font-family="Liberation Sans" font-size="8" font-weight="bold" fill="#55585e">SOM</text>
<text x="673.85" y="532" font-family="Liberation Sans" font-size="8" font-weight="bold" fill="#55585e">VIK</text>
<rect x="280.45" y="543.00" width="43.00" height="18.00" fill="url(#tab)"/>
<circle cx="291.9" cy="620.0" r="1.5" fill="#ffffff"/>
<circle cx="291.9" cy="630.0" r="1.5" fill="#ffffff"/>
<circle cx="301.9" cy="620.0" r="1.5" fill="#ffffff"/>
<circle cx="301.9" cy="630.0" r="1.5" fill="#ffffff"/>
<circle cx="311.9" cy="620.0" r="1.5" fill="#ffffff"/>
<circle cx="311.9" cy="630.0" r="1.5" fill="#ffffff"/>
<rect x="279.95" y="609.50" width="8.50" height="24.50" fill="url(#lead)" stroke="#8e8a80" stroke-width="0.8" rx="1.5"/>
<rect x="316.95" y="609.50" width="8.50" height="24.50" fill="url(#lead)" stroke="#8e8a80" stroke-width="0.8" rx="1.5"/>
<rect x="296.95" y="609.00" width="6.00" height="8.00" fill="#c8c3b8" stroke="#8e8a80" stroke-width="0.6" rx="1"/>
<path d="M280.45,559.8 H325.45 L329.25,563.8 V607 Q329.25,608 328.25,608 H277.75 Q276.75,608 276.75,607 V563.8 Z" fill="url(#fet)"/>
<text x="280.95" y="580.5" font-family="Liberation Sans" font-size="8.3" font-weight="bold" fill="#55585e">KIA</text>
<text x="306.45" y="580.5" font-family="Liberation Sans" font-size="8.3" font-weight="bold" fill="#55585e">NOS</text>
<text x="280.95" y="592" font-family="Liberation Sans" font-size="8.3" font-weight="bold" fill="#55585e">NO5</text>
<text x="306.45" y="592" font-family="Liberation Sans" font-size="8.3" font-weight="bold" fill="#55585e">B14</text>
<text x="302.45" y="605" text-anchor="middle" font-family="Liberation Sans" font-size="7" font-weight="bold" fill="#4f5258">KIA100N03A</text>
<rect x="341.60" y="543.00" width="43.00" height="18.00" fill="url(#tab)"/>
<circle cx="353.1" cy="620.0" r="1.5" fill="#ffffff"/>
<circle cx="353.1" cy="630.0" r="1.5" fill="#ffffff"/>
<circle cx="363.1" cy="620.0" r="1.5" fill="#ffffff"/>
<circle cx="363.1" cy="630.0" r="1.5" fill="#ffffff"/>
<circle cx="373.1" cy="620.0" r="1.5" fill="#ffffff"/>
<circle cx="373.1" cy="630.0" r="1.5" fill="#ffffff"/>
<rect x="341.10" y="609.50" width="8.50" height="24.50" fill="url(#lead)" stroke="#8e8a80" stroke-width="0.8" rx="1.5"/>
<rect x="378.10" y="609.50" width="8.50" height="24.50" fill="url(#lead)" stroke="#8e8a80" stroke-width="0.8" rx="1.5"/>
<rect x="358.10" y="609.00" width="6.00" height="8.00" fill="#c8c3b8" stroke="#8e8a80" stroke-width="0.6" rx="1"/>
<path d="M341.60,559.8 H386.60 L390.40,563.8 V607 Q390.40,608 389.40,608 H338.90 Q337.90,608 337.90,607 V563.8 Z" fill="url(#fet)"/>
<text x="342.1" y="580.5" font-family="Liberation Sans" font-size="8.3" font-weight="bold" fill="#55585e">KIA</text>
<text x="367.6" y="580.5" font-family="Liberation Sans" font-size="8.3" font-weight="bold" fill="#55585e">NOS</text>
<text x="342.1" y="592" font-family="Liberation Sans" font-size="8.3" font-weight="bold" fill="#55585e">NO5</text>
<text x="367.6" y="592" font-family="Liberation Sans" font-size="8.3" font-weight="bold" fill="#55585e">B14</text>
<text x="363.6" y="605" text-anchor="middle" font-family="Liberation Sans" font-size="7" font-weight="bold" fill="#4f5258">KIA100N03A</text>
<rect x="402.75" y="543.00" width="43.00" height="18.00" fill="url(#tab)"/>
<circle cx="414.2" cy="620.0" r="1.5" fill="#ffffff"/>
<circle cx="414.2" cy="630.0" r="1.5" fill="#ffffff"/>
<circle cx="424.2" cy="620.0" r="1.5" fill="#ffffff"/>
<circle cx="424.2" cy="630.0" r="1.5" fill="#ffffff"/>
<circle cx="434.2" cy="620.0" r="1.5" fill="#ffffff"/>
<circle cx="434.2" cy="630.0" r="1.5" fill="#ffffff"/>
<rect x="402.25" y="609.50" width="8.50" height="24.50" fill="url(#lead)" stroke="#8e8a80" stroke-width="0.8" rx="1.5"/>
<rect x="439.25" y="609.50" width="8.50" height="24.50" fill="url(#lead)" stroke="#8e8a80" stroke-width="0.8" rx="1.5"/>
<rect x="419.25" y="609.00" width="6.00" height="8.00" fill="#c8c3b8" stroke="#8e8a80" stroke-width="0.6" rx="1"/>
<path d="M402.75,559.8 H447.75 L451.55,563.8 V607 Q451.55,608 450.55,608 H400.05 Q399.05,608 399.05,607 V563.8 Z" fill="url(#fet)"/>
<text x="403.25" y="580.5" font-family="Liberation Sans" font-size="8.3" font-weight="bold" fill="#55585e">KIA</text>
<text x="428.75" y="580.5" font-family="Liberation Sans" font-size="8.3" font-weight="bold" fill="#55585e">NOS</text>
<text x="403.25" y="592" font-family="Liberation Sans" font-size="8.3" font-weight="bold" fill="#55585e">NO5</text>
<text x="428.75" y="592" font-family="Liberation Sans" font-size="8.3" font-weight="bold" fill="#55585e">B14</text>
<text x="424.75" y="605" text-anchor="middle" font-family="Liberation Sans" font-size="7" font-weight="bold" fill="#4f5258">KIA100N03A</text>
<rect x="463.90" y="543.00" width="43.00" height="18.00" fill="url(#tab)"/>
<circle cx="475.4" cy="620.0" r="1.5" fill="#ffffff"/>
<circle cx="475.4" cy="630.0" r="1.5" fill="#ffffff"/>
<circle cx="485.4" cy="620.0" r="1.5" fill="#ffffff"/>
<circle cx="485.4" cy="630.0" r="1.5" fill="#ffffff"/>
<circle cx="495.4" cy="620.0" r="1.5" fill="#ffffff"/>
<circle cx="495.4" cy="630.0" r="1.5" fill="#ffffff"/>
<rect x="463.40" y="609.50" width="8.50" height="24.50" fill="url(#lead)" stroke="#8e8a80" stroke-width="0.8" rx="1.5"/>
<rect x="500.40" y="609.50" width="8.50" height="24.50" fill="url(#lead)" stroke="#8e8a80" stroke-width="0.8" rx="1.5"/>
<rect x="480.40" y="609.00" width="6.00" height="8.00" fill="#c8c3b8" stroke="#8e8a80" stroke-width="0.6" rx="1"/>
<path d="M463.90,559.8 H508.90 L512.70,563.8 V607 Q512.70,608 511.70,608 H461.20 Q460.20,608 460.20,607 V563.8 Z" fill="url(#fet)"/>
<text x="464.4" y="580.5" font-family="Liberation Sans" font-size="8.3" font-weight="bold" fill="#55585e">KIA</text>
<text x="489.9" y="580.5" font-family="Liberation Sans" font-size="8.3" font-weight="bold" fill="#55585e">NOS</text>
<text x="464.4" y="592" font-family="Liberation Sans" font-size="8.3" font-weight="bold" fill="#55585e">NO5</text>
<text x="489.9" y="592" font-family="Liberation Sans" font-size="8.3" font-weight="bold" fill="#55585e">B14</text>
<text x="485.9" y="605" text-anchor="middle" font-family="Liberation Sans" font-size="7" font-weight="bold" fill="#4f5258">KIA100N03A</text>
<rect x="525.05" y="543.00" width="43.00" height="18.00" fill="url(#tab)"/>
<circle cx="536.5" cy="620.0" r="1.5" fill="#ffffff"/>
<circle cx="536.5" cy="630.0" r="1.5" fill="#ffffff"/>
<circle cx="546.5" cy="620.0" r="1.5" fill="#ffffff"/>
<circle cx="546.5" cy="630.0" r="1.5" fill="#ffffff"/>
<circle cx="556.5" cy="620.0" r="1.5" fill="#ffffff"/>
<circle cx="556.5" cy="630.0" r="1.5" fill="#ffffff"/>
<rect x="524.55" y="609.50" width="8.50" height="24.50" fill="url(#lead)" stroke="#8e8a80" stroke-width="0.8" rx="1.5"/>
<rect x="561.55" y="609.50" width="8.50" height="24.50" fill="url(#lead)" stroke="#8e8a80" stroke-width="0.8" rx="1.5"/>
<rect x="541.55" y="609.00" width="6.00" height="8.00" fill="#c8c3b8" stroke="#8e8a80" stroke-width="0.6" rx="1"/>
<path d="M525.05,559.8 H570.05 L573.85,563.8 V607 Q573.85,608 572.85,608 H522.35 Q521.35,608 521.35,607 V563.8 Z" fill="url(#fet)"/>
<text x="525.55" y="580.5" font-family="Liberation Sans" font-size="8.3" font-weight="bold" fill="#55585e">KIA</text>
<text x="551.05" y="580.5" font-family="Liberation Sans" font-size="8.3" font-weight="bold" fill="#55585e">NOS</text>
<text x="525.55" y="592" font-family="Liberation Sans" font-size="8.3" font-weight="bold" fill="#55585e">NO5</text>
<text x="551.05" y="592" font-family="Liberation Sans" font-size="8.3" font-weight="bold" fill="#55585e">B14</text>
<text x="547.05" y="605" text-anchor="middle" font-family="Liberation Sans" font-size="7" font-weight="bold" fill="#4f5258">KIA100N03A</text>
<rect x="586.20" y="543.00" width="43.00" height="18.00" fill="url(#tab)"/>
<circle cx="597.7" cy="620.0" r="1.5" fill="#ffffff"/>
<circle cx="597.7" cy="630.0" r="1.5" fill="#ffffff"/>
<circle cx="607.7" cy="620.0" r="1.5" fill="#ffffff"/>
<circle cx="607.7" cy="630.0" r="1.5" fill="#ffffff"/>
<circle cx="617.7" cy="620.0" r="1.5" fill="#ffffff"/>
<circle cx="617.7" cy="630.0" r="1.5" fill="#ffffff"/>
<rect x="585.70" y="609.50" width="8.50" height="24.50" fill="url(#lead)" stroke="#8e8a80" stroke-width="0.8" rx="1.5"/>
<rect x="622.70" y="609.50" width="8.50" height="24.50" fill="url(#lead)" stroke="#8e8a80" stroke-width="0.8" rx="1.5"/>
<rect x="602.70" y="609.00" width="6.00" height="8.00" fill="#c8c3b8" stroke="#8e8a80" stroke-width="0.6" rx="1"/>
<path d="M586.20,559.8 H631.20 L635.00,563.8 V607 Q635.00,608 634.00,608 H583.50 Q582.50,608 582.50,607 V563.8 Z" fill="url(#fet)"/>
<text x="586.7" y="580.5" font-family="Liberation Sans" font-size="8.3" font-weight="bold" fill="#55585e">KIA</text>
<text x="612.2" y="580.5" font-family="Liberation Sans" font-size="8.3" font-weight="bold" fill="#55585e">NOS</text>
<text x="586.7" y="592" font-family="Liberation Sans" font-size="8.3" font-weight="bold" fill="#55585e">NO5</text>
<text x="612.2" y="592" font-family="Liberation Sans" font-size="8.3" font-weight="bold" fill="#55585e">B14</text>
<text x="608.2" y="605" text-anchor="middle" font-family="Liberation Sans" font-size="7" font-weight="bold" fill="#4f5258">KIA100N03A</text>
<rect x="647.35" y="543.00" width="43.00" height="18.00" fill="url(#tab)"/>
<circle cx="658.9" cy="620.0" r="1.5" fill="#ffffff"/>
<circle cx="658.9" cy="630.0" r="1.5" fill="#ffffff"/>
<circle cx="668.9" cy="620.0" r="1.5" fill="#ffffff"/>
<circle cx="668.9" cy="630.0" r="1.5" fill="#ffffff"/>
<circle cx="678.9" cy="620.0" r="1.5" fill="#ffffff"/>
<circle cx="678.9" cy="630.0" r="1.5" fill="#ffffff"/>
<rect x="646.85" y="609.50" width="8.50" height="24.50" fill="url(#lead)" stroke="#8e8a80" stroke-width="0.8" rx="1.5"/>
<rect x="683.85" y="609.50" width="8.50" height="24.50" fill="url(#lead)" stroke="#8e8a80" stroke-width="0.8" rx="1.5"/>
<rect x="663.85" y="609.00" width="6.00" height="8.00" fill="#c8c3b8" stroke="#8e8a80" stroke-width="0.6" rx="1"/>
<path d="M647.35,559.8 H692.35 L696.15,563.8 V607 Q696.15,608 695.15,608 H644.65 Q643.65,608 643.65,607 V563.8 Z" fill="url(#fet)"/>
<text x="647.85" y="580.5" font-family="Liberation Sans" font-size="8.3" font-weight="bold" fill="#55585e">KIA</text>
<text x="673.35" y="580.5" font-family="Liberation Sans" font-size="8.3" font-weight="bold" fill="#55585e">NOS</text>
<text x="647.85" y="592" font-family="Liberation Sans" font-size="8.3" font-weight="bold" fill="#55585e">NO5</text>
<text x="673.35" y="592" font-family="Liberation Sans" font-size="8.3" font-weight="bold" fill="#55585e">B14</text>
<text x="669.35" y="605" text-anchor="middle" font-family="Liberation Sans" font-size="7" font-weight="bold" fill="#4f5258">KIA100N03A</text>
<rect x="272.00" y="639.50" width="431.50" height="15.00" fill="#d8dce1"/>
<rect x="272.00" y="641.00" width="431.50" height="2.80" fill="#6c7077"/>
<rect x="272.00" y="649.00" width="431.50" height="5.50" fill="#e6e9ed"/>
<ellipse cx="668.0" cy="646" rx="3.6" ry="6.5" fill="#b9bcc1"/>
<ellipse cx="635.2" cy="646" rx="3.6" ry="6.5" fill="#b9bcc1"/>
<ellipse cx="602.5" cy="646" rx="3.6" ry="6.5" fill="#b9bcc1"/>
<ellipse cx="569.7" cy="646" rx="3.6" ry="6.5" fill="#b9bcc1"/>
<ellipse cx="536.9" cy="646" rx="3.6" ry="6.5" fill="#b9bcc1"/>
<ellipse cx="504.1" cy="646" rx="3.6" ry="6.5" fill="#b9bcc1"/>
<ellipse cx="471.4" cy="646" rx="3.6" ry="6.5" fill="#b9bcc1"/>
<ellipse cx="438.6" cy="646" rx="3.6" ry="6.5" fill="#b9bcc1"/>
<ellipse cx="405.8" cy="646" rx="3.6" ry="6.5" fill="#b9bcc1"/>
<ellipse cx="373.1" cy="646" rx="3.6" ry="6.5" fill="#b9bcc1"/>
<ellipse cx="340.3" cy="646" rx="3.6" ry="6.5" fill="#b9bcc1"/>
<ellipse cx="307.5" cy="646" rx="3.6" ry="6.5" fill="#b9bcc1"/>
<ellipse cx="274.8" cy="646" rx="3.6" ry="6.5" fill="#b9bcc1"/>
<rect x="665.60" y="627.00" width="8.20" height="6.00" fill="#1e1e1e"/>
<rect x="662.00" y="318.00" width="4.00" height="9.00" fill="#0e0ee8"/>
<rect x="615.00" y="328.00" width="78.00" height="54.20" fill="#8e8e8e" stroke="#e60a0a" stroke-width="4.2"/>
<circle cx="620.8" cy="335.5" r="1.9" fill="#f4f4f4"/>
<circle cx="631.1" cy="335.5" r="1.9" fill="#f4f4f4"/>
<circle cx="641.5" cy="335.5" r="1.9" fill="#f4f4f4"/>
<circle cx="651.8" cy="335.5" r="1.9" fill="#f4f4f4"/>
<circle cx="662.1" cy="335.5" r="1.9" fill="#f4f4f4"/>
<circle cx="672.4" cy="335.5" r="1.9" fill="#f4f4f4"/>
<circle cx="682.8" cy="335.5" r="1.9" fill="#f4f4f4"/>
<circle cx="620.8" cy="343.7" r="1.9" fill="#f4f4f4"/>
<circle cx="631.1" cy="343.7" r="1.9" fill="#f4f4f4"/>
<circle cx="641.5" cy="343.7" r="1.9" fill="#f4f4f4"/>
<circle cx="651.8" cy="343.7" r="1.9" fill="#f4f4f4"/>
<circle cx="662.1" cy="343.7" r="1.9" fill="#f4f4f4"/>
<circle cx="672.4" cy="343.7" r="1.9" fill="#f4f4f4"/>
<circle cx="682.8" cy="343.7" r="1.9" fill="#f4f4f4"/>
<circle cx="620.8" cy="351.9" r="1.9" fill="#f4f4f4"/>
<circle cx="631.1" cy="351.9" r="1.9" fill="#f4f4f4"/>
<circle cx="641.5" cy="351.9" r="1.9" fill="#f4f4f4"/>
<circle cx="651.8" cy="351.9" r="1.9" fill="#f4f4f4"/>
<circle cx="662.1" cy="351.9" r="1.9" fill="#f4f4f4"/>
<circle cx="672.4" cy="351.9" r="1.9" fill="#f4f4f4"/>
<circle cx="682.8" cy="351.9" r="1.9" fill="#f4f4f4"/>
<circle cx="620.8" cy="360.1" r="1.9" fill="#f4f4f4"/>
<circle cx="631.1" cy="360.1" r="1.9" fill="#f4f4f4"/>
<circle cx="641.5" cy="360.1" r="1.9" fill="#f4f4f4"/>
<circle cx="651.8" cy="360.1" r="1.9" fill="#f4f4f4"/>
<circle cx="662.1" cy="360.1" r="1.9" fill="#f4f4f4"/>
<circle cx="672.4" cy="360.1" r="1.9" fill="#f4f4f4"/>
<circle cx="682.8" cy="360.1" r="1.9" fill="#f4f4f4"/>
<circle cx="620.8" cy="368.3" r="1.9" fill="#f4f4f4"/>
<circle cx="631.1" cy="368.3" r="1.9" fill="#f4f4f4"/>
<circle cx="641.5" cy="368.3" r="1.9" fill="#f4f4f4"/>
<circle cx="651.8" cy="368.3" r="1.9" fill="#f4f4f4"/>
<circle cx="662.1" cy="368.3" r="1.9" fill="#f4f4f4"/>
<circle cx="672.4" cy="368.3" r="1.9" fill="#f4f4f4"/>
<circle cx="682.8" cy="368.3" r="1.9" fill="#f4f4f4"/>
<circle cx="620.8" cy="376.5" r="1.9" fill="#f4f4f4"/>
<circle cx="631.1" cy="376.5" r="1.9" fill="#f4f4f4"/>
<circle cx="641.5" cy="376.5" r="1.9" fill="#f4f4f4"/>
<circle cx="651.8" cy="376.5" r="1.9" fill="#f4f4f4"/>
<circle cx="662.1" cy="376.5" r="1.9" fill="#f4f4f4"/>
<circle cx="672.4" cy="376.5" r="1.9" fill="#f4f4f4"/>
<circle cx="682.8" cy="376.5" r="1.9" fill="#f4f4f4"/>
<circle cx="662" cy="355.5" r="15" fill="#fff"/>
<path d="M721.5,332.2 V369.5 H733 C740.5,369.5 743.8,365.5 743.8,360 C743.8,354 739.5,350.5 733,350.5 H721.5 M721.5,332.2 H731.5 C738,332.2 741.3,336 741.3,341 C741.3,346.5 737.5,350.5 731.5,350.5" fill="none" stroke="#e60a0a" stroke-width="5"/>
<rect x="753.00" y="353.30" width="15.00" height="4.50" fill="#e60a0a"/>
<text x="248.3" y="599.5" font-family="Liberation Sans" font-size="14" fill="#3c3e42">P</text>
<rect x="258.50" y="593.80" width="8.50" height="1.50" fill="#3c3e42"/>
<rect x="212.50" y="556.90" width="54.30" height="32.40" fill="#cfd2d5" stroke="#e60a0a" stroke-width="3.4"/>
<rect x="212.90" y="608.10" width="57.50" height="42.00" fill="#b4b6b9" stroke="#e60a0a" stroke-width="3.4"/>
<circle cx="222.6" cy="618.0" r="1.7" fill="#f4f4f4"/>
<circle cx="263.9" cy="618.0" r="1.7" fill="#f4f4f4"/>
<circle cx="222.6" cy="626.1" r="1.7" fill="#f4f4f4"/>
<circle cx="263.9" cy="626.1" r="1.7" fill="#f4f4f4"/>
<circle cx="222.6" cy="634.2" r="1.7" fill="#f4f4f4"/>
<circle cx="263.9" cy="634.2" r="1.7" fill="#f4f4f4"/>
<circle cx="222.6" cy="642.3" r="1.7" fill="#f4f4f4"/>
<circle cx="263.9" cy="642.3" r="1.7" fill="#f4f4f4"/>
<circle cx="232.5" cy="618.0" r="1.7" fill="#f4f4f4"/>
<circle cx="253.1" cy="618.0" r="1.7" fill="#f4f4f4"/>
<circle cx="243.5" cy="633.5" r="12.4" fill="#fff"/>
<text x="248" y="614.8" font-family="Liberation Sans" font-size="14" fill="#3c3e42">C</text>
</svg></body></html>
